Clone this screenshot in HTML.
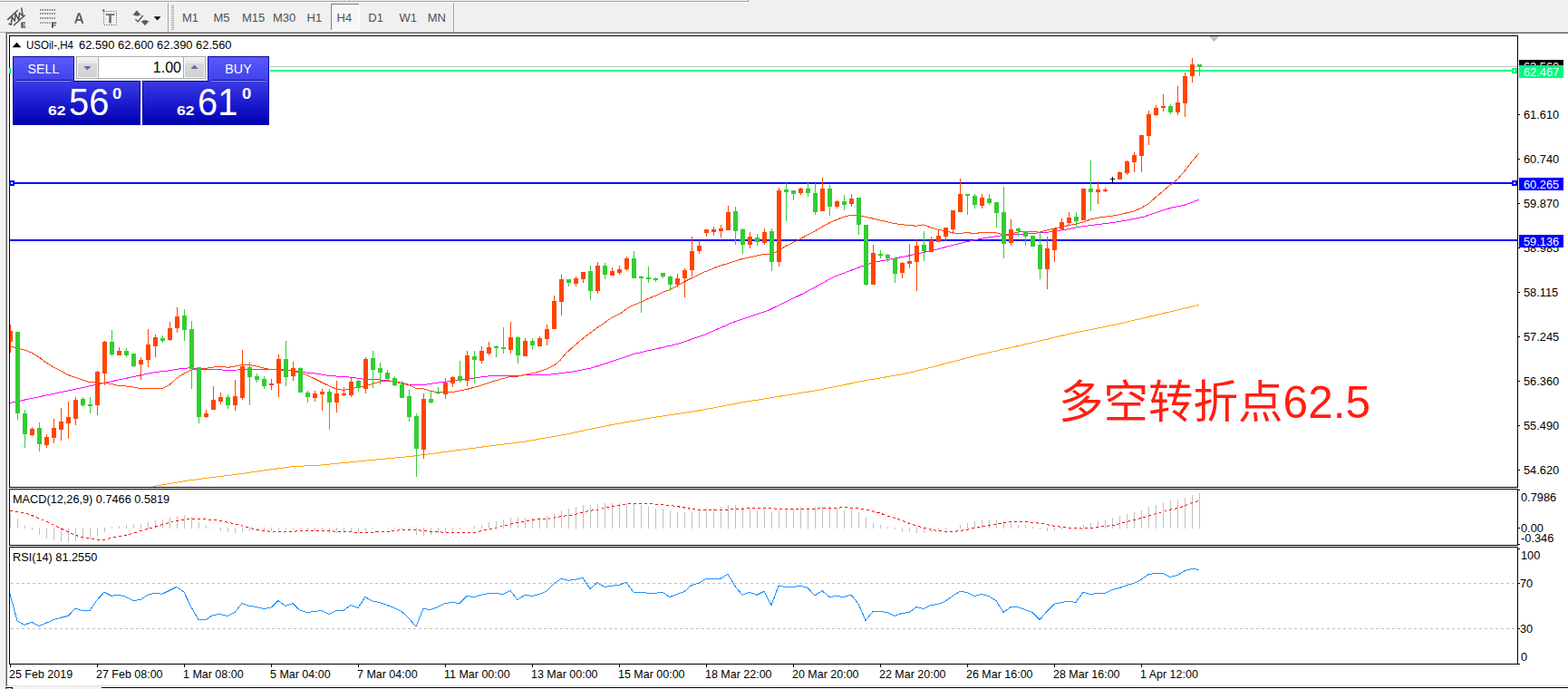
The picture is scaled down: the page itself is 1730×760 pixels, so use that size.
<!DOCTYPE html>
<html>
<head>
<meta charset="utf-8">
<title>USOil H4</title>
<style>
html,body{margin:0;padding:0;}
body{width:1730px;height:760px;overflow:hidden;background:#fff;position:relative;font-family:"Liberation Sans",sans-serif;font-size:12px;color:#000;}
.abs{position:absolute;}
.t{position:absolute;white-space:nowrap;line-height:14px;font-size:13px;transform-origin:0 0;transform:scaleX(0.978);}
#toolbar{left:0;top:0;width:1730px;height:35px;background:#f0f0f0;}
.tb{position:absolute;top:13px;font-size:13px;color:#505050;line-height:14px;white-space:nowrap;}
.ax{position:absolute;left:1681px;font-size:13px;line-height:14px;white-space:nowrap;transform-origin:0 0;transform:scaleX(0.985);}
.tick{position:absolute;left:1675px;width:2px;height:1px;background:#000;}
.dt{position:absolute;top:737px;font-size:13px;line-height:14px;white-space:nowrap;transform-origin:0 0;transform:scaleX(0.96);}
.dtick{position:absolute;top:733px;width:1px;height:3px;background:#000;}
.box{position:absolute;border:1px solid #000;box-sizing:border-box;}
.lbl{position:absolute;left:1676px;width:49px;height:14px;color:#fff;font-size:13px;line-height:14px;white-space:nowrap;}
.lbl span{position:absolute;left:5px;top:1px;transform-origin:0 0;transform:scaleX(0.985);}
</style>
</head>
<body>
<!-- toolbar -->
<div id="toolbar" class="abs"></div>
<div class="abs" style="left:0;top:1px;width:825px;height:1px;background:#a0a0a0;"></div>
<div class="abs" style="left:0;top:2px;width:826px;height:1px;background:#fff;"></div>
<div class="abs" style="left:825px;top:0;width:1px;height:2px;background:#a0a0a0;"></div>
<div class="abs" style="left:385px;top:0;width:1px;height:2px;background:#a0a0a0;"></div><div class="abs" style="left:386px;top:0;width:1px;height:1px;background:#fff;"></div>
<div class="abs" style="left:0;top:34px;width:1730px;height:1px;background:#f9f9f9;"></div>
<div class="abs" style="left:0;top:35px;width:1730px;height:1px;background:#a0a0a0;"></div>
<div class="abs" style="left:0;top:36px;width:1730px;height:1px;background:#696969;"></div>
<!-- left strip -->
<div class="abs" style="left:0;top:36px;width:7px;height:721px;background:#f0f0f0;"></div>
<div class="abs" style="left:0;top:36px;width:6px;height:1px;background:#fff;"></div>
<div class="abs" style="left:1px;top:37px;width:1px;height:720px;background:#f8f8f8;"></div>
<div class="abs" style="left:5px;top:37px;width:1px;height:720px;background:#fafafa;"></div>
<div class="abs" style="left:6px;top:36px;width:1px;height:721px;background:#a0a0a0;"></div>
<div class="abs" style="left:7px;top:36px;width:1px;height:721px;background:#696969;"></div>
<!-- bottom strip -->
<div class="abs" style="left:8px;top:756px;width:1722px;height:1px;background:#e3e3e3;"></div>
<div class="abs" style="left:0;top:757px;width:1730px;height:3px;background:#f4f4f4;"></div>
<div class="abs" style="left:112px;top:758px;width:1618px;height:1px;background:#000;"></div>
<div class="abs" style="left:112px;top:759px;width:1618px;height:1px;background:#fff;"></div>
<div class="abs" style="left:6px;top:758px;width:8px;height:1px;background:#000;"></div>
<div class="abs" style="left:13px;top:759px;width:1px;height:1px;background:#000;"></div>
<div class="abs" style="left:6px;top:759px;width:2px;height:1px;background:#808080;"></div>

<!-- toolbar icons -->
<svg class="abs" style="left:0;top:0;" width="520" height="36" viewBox="0 0 520 36">
  <g fill="none" stroke="#505050" stroke-linecap="round" stroke-linejoin="round">
  <path d="M8.7 21.4 L19.4 11.5" stroke-width="1.5"/>
  <path d="M15.4 27.7 L27.3 17" stroke-width="1.5"/>
  <path d="M10 26.3 L12.3 27.3 L13.2 18.6 L16.3 23.2 L17.1 15 L20.8 22.2 L21.5 14.3 L25.3 17.8 L23.7 9.1" stroke-width="1.5"/>
</g>
<path d="M23.3 24.5 H28 V25.9 H25 V26.9 H27.6 V28.2 H25 V29.3 H28.2 V30.7 H23.3 Z" fill="#505050"/>
<!-- fibo icon -->
<g stroke="#505050" stroke-width="1.3" stroke-dasharray="1.3 1.25">
  <path d="M44.2 11 H61.5"/><path d="M44.2 15 H61.5"/><path d="M44.2 20 H61.5"/><path d="M44.2 25.1 H56.5"/>
</g>
<path d="M57 24.5 H62.2 V25.9 H58.8 V27.2 H61.6 V28.5 H58.8 V30.7 H57 Z" fill="#505050"/>
<!-- A -->
<path d="M86 14.2 H88.4 L92.3 25.7 H90.2 L89.3 22.9 H85 L84.1 25.7 H82.1 Z M85.6 21.2 H88.7 L87.2 16.3 Z" fill="#5a5a5a"/>
<!-- text label -->
<rect x="114.5" y="12.5" width="14" height="15" fill="none" stroke="#505050" stroke-width="1" stroke-dasharray="1 1.6"/>
<path d="M113 10.5 H115.3 V12.6 H113 Z" fill="#6a6a6a"/>
<path d="M116.8 15.2 H126.3 V17 H122.8 V25.6 H120.3 V17 H116.8 Z" fill="#6a6a6a"/>
<!-- arrows -->
<path d="M150.9 11.4 L155.6 16.8 H153 V17.6 H149 V16.8 H146.4 Z" fill="#5a5a5a"/>
<path d="M159.9 28.2 L164.6 23 H162 V22.2 H157.9 V23 H155.4 Z" fill="#5a5a5a"/>
<path d="M149.3 21.2 L152.3 23.8 L157.8 17" fill="none" stroke="#5a5a5a" stroke-width="1.4"/>
<path d="M169.8 18.2 H177.4 L173.6 22.4 Z" fill="#000"/>
<!-- separator + grip -->
<rect x="185" y="3" width="1" height="32" fill="#a0a0a0"/><rect x="186" y="3" width="1" height="32" fill="#fbfbfb"/>
<g fill="#a8a8a8">
<rect x="189" y="6" width="3" height="1"/><rect x="189" y="8" width="3" height="1"/><rect x="189" y="10" width="3" height="1"/><rect x="189" y="12" width="3" height="1"/><rect x="189" y="14" width="3" height="1"/><rect x="189" y="16" width="3" height="1"/><rect x="189" y="18" width="3" height="1"/><rect x="189" y="20" width="3" height="1"/><rect x="189" y="22" width="3" height="1"/><rect x="189" y="24" width="3" height="1"/><rect x="189" y="26" width="3" height="1"/><rect x="189" y="28" width="3" height="1"/><rect x="189" y="30" width="3" height="1"/><rect x="189" y="32" width="3" height="1"/>
</g>
<!-- H4 selected -->
<rect x="365" y="4" width="32" height="29" fill="#f7f7f7"/>
<rect x="365" y="4" width="31" height="1" fill="#808080"/><rect x="365" y="4" width="1" height="29" fill="#808080"/>
<rect x="396" y="4" width="1" height="29" fill="#fff"/><rect x="366" y="32" width="31" height="1" fill="#fff"/>
<!-- right separator -->
<rect x="500" y="3" width="1" height="32" fill="#a0a0a0"/><rect x="501" y="3" width="1" height="32" fill="#fbfbfb"/>

</svg>
<div class="tb" style="left:201px;">M1</div>
<div class="tb" style="left:235.5px;">M5</div>
<div class="tb" style="left:267px;">M15</div>
<div class="tb" style="left:301px;">M30</div>
<div class="tb" style="left:338.5px;">H1</div>
<div class="tb" style="left:371.5px;">H4</div>
<div class="tb" style="left:406.3px;">D1</div>
<div class="tb" style="left:440.6px;">W1</div>
<div class="tb" style="left:471.7px;">MN</div>

<!-- chart boxes -->
<div class="box" style="left:10px;top:39px;width:1665px;height:499px;"></div>
<div class="box" style="left:10px;top:539px;width:1665px;height:63px;"></div>
<div class="box" style="left:10px;top:603px;width:1665px;height:130px;"></div>

<!-- chart contents -->
<svg class="abs" style="left:0;top:0;" width="1730" height="760" viewBox="0 0 1730 760" shape-rendering="crispEdges">
<rect x="298" y="73" width="1376" height="1" fill="#c0c0c0"/>
<rect x="10" y="75" width="2" height="6" fill="#00fa7d"/>
<rect x="298" y="77" width="1372" height="2" fill="#00fa7d"/>
<rect x="1668" y="75" width="6" height="6" fill="#00fa7d"/><rect x="1670" y="77" width="2" height="2" fill="#fff"/>
<rect x="11" y="201" width="1663" height="2" fill="#0000ff"/>
<rect x="1668" y="199" width="6" height="6" fill="#0000ff"/><rect x="1670" y="201" width="2" height="2" fill="#fff"/>
<rect x="10" y="199" width="6" height="6" fill="#0000ff"/><rect x="12" y="201" width="2" height="2" fill="#fff"/>
<rect x="11" y="264" width="1663" height="2" fill="#0000ff"/>
<line x1="12" y1="643.5" x2="1674" y2="643.5" stroke="#c0c0c0" stroke-dasharray="3 3"/>
<line x1="12" y1="693.5" x2="1674" y2="693.5" stroke="#c0c0c0" stroke-dasharray="3 3"/>
<path d="M1334 40 L1345 40 L1339.5 46 Z" fill="#c0c0c0" shape-rendering="auto"/>
<g shape-rendering="auto">
<polyline points="169.0,536.5 207.8,530.0 265.6,522.6 323.4,514.5 350.0,513.4 374.5,511.0 414.0,507.1 453.4,503.4 480.0,500.0 528.6,493.5 577.0,487.4 625.7,478.9 650.0,473.6 674.0,468.7 722.8,460.2 771.3,452.9 819.9,443.7 868.4,435.9 900.0,430.8 950.9,420.5 1001.7,411.6 1027.2,405.2 1078.0,392.0 1128.9,380.3 1179.8,368.3 1230.6,358.1 1281.5,346.2 1323.0,336.3" fill="none" stroke="#ffa500" stroke-width="1" shape-rendering="crispEdges" />
<polyline points="11.0,444.5 91.0,427.6 170.0,410.7 183.0,409.3 196.0,407.1 209.5,405.8 222.6,407.1 235.8,407.4 249.0,408.3 262.0,408.0 275.0,407.4 288.4,407.1 301.6,407.1 314.7,408.0 327.9,409.7 335.0,410.7 348.2,412.0 361.3,414.2 374.5,415.3 387.6,416.2 400.8,418.2 413.9,418.6 427.1,419.5 440.3,421.8 453.4,424.7 466.6,424.7 479.7,422.5 492.9,421.0 500.0,420.3 519.7,417.4 543.4,414.3 572.4,414.1 605.3,413.4 631.6,410.1 651.3,406.2 670.0,400.5 699.6,390.4 748.9,379.1 778.5,368.7 808.1,355.8 847.6,342.4 887.1,323.3 920.0,305.4 952.9,293.0 966.0,289.0 999.0,282.8 1031.8,275.5 1064.7,267.0 1085.0,262.8 1107.0,259.5 1123.0,258.4 1147.0,256.8 1163.0,255.5 1179.0,252.6 1195.0,249.6 1211.0,247.6 1227.0,245.7 1243.0,243.0 1261.8,239.3 1275.0,234.7 1291.0,229.5 1307.0,226.2 1323.0,220.3" fill="none" stroke="#ff00ff" stroke-width="1" shape-rendering="crispEdges" />
<polyline points="11.0,382.0 19.0,384.0 27.0,386.0 35.0,389.0 43.0,394.0 51.0,400.0 59.0,405.0 67.0,409.0 75.0,413.5 91.0,419.0 99.0,421.5 107.0,422.0 115.0,422.0 123.0,423.5 131.0,425.5 139.0,426.0 147.0,427.0 155.0,428.5 163.0,428.7 170.0,428.7 179.0,428.7 187.0,424.5 195.0,417.2 203.0,412.0 211.0,408.0 219.0,407.1 227.0,406.4 235.0,405.1 243.0,404.1 251.0,405.4 259.0,404.1 267.0,402.4 275.0,402.4 283.0,404.1 291.0,406.0 299.0,407.6 307.0,408.0 315.0,408.0 323.0,409.3 331.0,411.3 335.0,412.2 348.0,418.2 361.0,424.7 371.0,429.1 379.0,430.3 387.0,429.3 395.0,426.7 403.0,425.8 411.0,423.4 419.0,421.0 427.0,420.1 435.0,421.0 443.0,422.8 451.0,424.7 459.0,428.4 467.0,428.7 475.0,431.3 483.0,432.6 491.0,432.6 499.0,432.6 513.0,429.9 526.0,426.6 546.0,420.0 563.0,415.4 572.0,415.1 579.0,413.4 592.0,410.8 605.0,406.2 612.0,402.5 618.4,397.0 625.0,389.1 631.6,383.2 644.7,372.0 657.9,362.1 662.4,359.3 675.5,350.1 684.7,345.5 692.6,339.6 699.2,336.3 707.0,333.4 715.0,329.3 723.0,326.4 731.0,322.5 739.0,319.6 747.0,315.3 755.0,310.7 775.0,301.0 791.2,294.3 818.2,285.8 841.8,280.5 851.0,280.3 859.0,276.6 867.0,271.3 875.0,267.4 883.0,263.4 891.0,259.1 899.0,254.9 907.0,250.3 915.0,245.7 923.0,242.4 929.0,240.0 939.0,237.1 947.0,237.4 955.0,239.3 972.6,243.3 987.0,246.6 1003.0,248.6 1011.0,249.2 1019.0,247.9 1027.0,250.9 1035.0,253.2 1043.0,254.9 1051.0,256.8 1059.0,257.5 1067.0,256.4 1075.0,257.8 1083.0,256.4 1091.0,256.4 1099.0,256.8 1107.0,258.8 1115.0,258.2 1123.0,255.9 1131.0,255.3 1139.0,255.3 1147.0,256.2 1155.0,253.9 1163.0,252.2 1171.0,250.3 1179.0,248.7 1187.0,247.0 1195.0,245.0 1203.0,242.1 1211.0,240.4 1219.0,239.1 1227.0,238.2 1235.0,236.8 1243.0,234.9 1251.0,233.0 1259.0,229.5 1267.0,224.9 1275.0,217.6 1283.0,211.0 1291.0,204.1 1299.0,197.9 1307.0,188.7 1315.0,178.2 1323.0,168.9" fill="none" stroke="#ff4500" stroke-width="1" shape-rendering="crispEdges" />
<rect x="11" y="358" width="1" height="31" fill="#ff4500"/>
<rect x="11" y="365" width="3" height="12" fill="#ff4500"/>
<rect x="19" y="366" width="1" height="97" fill="#32cd32"/>
<rect x="17" y="366" width="5" height="90" fill="#32cd32"/>
<rect x="27" y="452" width="1" height="42" fill="#32cd32"/>
<rect x="25" y="456" width="5" height="23" fill="#32cd32"/>
<rect x="35" y="471" width="1" height="10" fill="#ff4500"/>
<rect x="33" y="473" width="5" height="7" fill="#ff4500"/>
<rect x="43" y="466" width="1" height="32" fill="#32cd32"/>
<rect x="41" y="472" width="5" height="18" fill="#32cd32"/>
<rect x="51" y="479" width="1" height="15" fill="#ff4500"/>
<rect x="49" y="482" width="5" height="9" fill="#ff4500"/>
<rect x="59" y="462" width="1" height="27" fill="#ff4500"/>
<rect x="57" y="472" width="5" height="11" fill="#ff4500"/>
<rect x="67" y="450" width="1" height="36" fill="#ff4500"/>
<rect x="65" y="465" width="5" height="9" fill="#ff4500"/>
<rect x="75" y="443" width="1" height="41" fill="#ff4500"/>
<rect x="73" y="460" width="5" height="7" fill="#ff4500"/>
<rect x="83" y="438" width="1" height="31" fill="#ff4500"/>
<rect x="81" y="441" width="5" height="21" fill="#ff4500"/>
<rect x="91" y="438" width="1" height="11" fill="#32cd32"/>
<rect x="89" y="440" width="5" height="7" fill="#32cd32"/>
<rect x="99" y="438" width="1" height="18" fill="#32cd32"/>
<rect x="97" y="446" width="5" height="2" fill="#32cd32"/>
<rect x="107" y="409" width="1" height="49" fill="#ff4500"/>
<rect x="105" y="410" width="5" height="37" fill="#ff4500"/>
<rect x="115" y="376" width="1" height="49" fill="#ff4500"/>
<rect x="113" y="377" width="5" height="35" fill="#ff4500"/>
<rect x="123" y="364" width="1" height="29" fill="#32cd32"/>
<rect x="121" y="377" width="5" height="14" fill="#32cd32"/>
<rect x="131" y="383" width="1" height="9" fill="#ff4500"/>
<rect x="129" y="387" width="5" height="5" fill="#ff4500"/>
<rect x="139" y="384" width="1" height="10" fill="#32cd32"/>
<rect x="137" y="387" width="5" height="5" fill="#32cd32"/>
<rect x="147" y="390" width="1" height="15" fill="#32cd32"/>
<rect x="145" y="390" width="5" height="14" fill="#32cd32"/>
<rect x="155" y="394" width="1" height="25" fill="#ff4500"/>
<rect x="153" y="397" width="5" height="5" fill="#ff4500"/>
<rect x="163" y="363" width="1" height="42" fill="#ff4500"/>
<rect x="161" y="380" width="5" height="17" fill="#ff4500"/>
<rect x="171" y="369" width="1" height="25" fill="#ff4500"/>
<rect x="169" y="372" width="5" height="10" fill="#ff4500"/>
<rect x="179" y="370" width="1" height="8" fill="#32cd32"/>
<rect x="177" y="373" width="5" height="3" fill="#32cd32"/>
<rect x="187" y="355" width="1" height="21" fill="#ff4500"/>
<rect x="185" y="362" width="5" height="13" fill="#ff4500"/>
<rect x="195" y="339" width="1" height="28" fill="#ff4500"/>
<rect x="193" y="349" width="5" height="13" fill="#ff4500"/>
<rect x="203" y="341" width="1" height="35" fill="#32cd32"/>
<rect x="201" y="348" width="5" height="16" fill="#32cd32"/>
<rect x="211" y="354" width="1" height="75" fill="#32cd32"/>
<rect x="209" y="363" width="5" height="44" fill="#32cd32"/>
<rect x="219" y="405" width="1" height="62" fill="#32cd32"/>
<rect x="217" y="405" width="5" height="55" fill="#32cd32"/>
<rect x="227" y="452" width="1" height="9" fill="#ff4500"/>
<rect x="225" y="456" width="5" height="4" fill="#ff4500"/>
<rect x="235" y="426" width="1" height="26" fill="#ff4500"/>
<rect x="233" y="441" width="5" height="11" fill="#ff4500"/>
<rect x="243" y="433" width="1" height="13" fill="#ff4500"/>
<rect x="241" y="438" width="5" height="5" fill="#ff4500"/>
<rect x="251" y="435" width="1" height="16" fill="#32cd32"/>
<rect x="249" y="438" width="5" height="9" fill="#32cd32"/>
<rect x="259" y="419" width="1" height="34" fill="#ff4500"/>
<rect x="257" y="437" width="5" height="10" fill="#ff4500"/>
<rect x="267" y="386" width="1" height="55" fill="#ff4500"/>
<rect x="265" y="404" width="5" height="35" fill="#ff4500"/>
<rect x="275" y="399" width="1" height="48" fill="#32cd32"/>
<rect x="273" y="405" width="5" height="11" fill="#32cd32"/>
<rect x="283" y="412" width="1" height="10" fill="#32cd32"/>
<rect x="281" y="415" width="5" height="4" fill="#32cd32"/>
<rect x="291" y="415" width="1" height="14" fill="#32cd32"/>
<rect x="289" y="418" width="5" height="8" fill="#32cd32"/>
<rect x="299" y="418" width="1" height="12" fill="#ff4500"/>
<rect x="297" y="423" width="5" height="2" fill="#ff4500"/>
<rect x="307" y="391" width="1" height="47" fill="#ff4500"/>
<rect x="305" y="396" width="5" height="27" fill="#ff4500"/>
<rect x="315" y="376" width="1" height="50" fill="#32cd32"/>
<rect x="313" y="396" width="5" height="20" fill="#32cd32"/>
<rect x="323" y="399" width="1" height="21" fill="#ff4500"/>
<rect x="321" y="406" width="5" height="9" fill="#ff4500"/>
<rect x="331" y="405" width="1" height="28" fill="#32cd32"/>
<rect x="329" y="406" width="5" height="27" fill="#32cd32"/>
<rect x="339" y="431" width="1" height="13" fill="#32cd32"/>
<rect x="337" y="433" width="5" height="5" fill="#32cd32"/>
<rect x="347" y="431" width="1" height="12" fill="#ff4500"/>
<rect x="345" y="434" width="5" height="5" fill="#ff4500"/>
<rect x="355" y="429" width="1" height="24" fill="#ff4500"/>
<rect x="353" y="432" width="5" height="3" fill="#ff4500"/>
<rect x="363" y="429" width="1" height="45" fill="#32cd32"/>
<rect x="361" y="432" width="5" height="12" fill="#32cd32"/>
<rect x="371" y="420" width="1" height="35" fill="#ff4500"/>
<rect x="369" y="434" width="5" height="10" fill="#ff4500"/>
<rect x="379" y="427" width="1" height="10" fill="#ff4500"/>
<rect x="377" y="434" width="5" height="2" fill="#ff4500"/>
<rect x="387" y="416" width="1" height="22" fill="#ff4500"/>
<rect x="385" y="421" width="5" height="15" fill="#ff4500"/>
<rect x="395" y="419" width="1" height="13" fill="#32cd32"/>
<rect x="393" y="420" width="5" height="8" fill="#32cd32"/>
<rect x="403" y="394" width="1" height="40" fill="#ff4500"/>
<rect x="401" y="396" width="5" height="33" fill="#ff4500"/>
<rect x="411" y="387" width="1" height="41" fill="#32cd32"/>
<rect x="409" y="395" width="5" height="13" fill="#32cd32"/>
<rect x="419" y="400" width="1" height="24" fill="#32cd32"/>
<rect x="417" y="406" width="5" height="5" fill="#32cd32"/>
<rect x="427" y="408" width="1" height="13" fill="#32cd32"/>
<rect x="425" y="411" width="5" height="7" fill="#32cd32"/>
<rect x="435" y="415" width="1" height="11" fill="#32cd32"/>
<rect x="433" y="417" width="5" height="8" fill="#32cd32"/>
<rect x="443" y="420" width="1" height="19" fill="#32cd32"/>
<rect x="441" y="424" width="5" height="15" fill="#32cd32"/>
<rect x="451" y="430" width="1" height="35" fill="#32cd32"/>
<rect x="449" y="437" width="5" height="23" fill="#32cd32"/>
<rect x="459" y="456" width="1" height="70" fill="#32cd32"/>
<rect x="457" y="459" width="5" height="36" fill="#32cd32"/>
<rect x="467" y="434" width="1" height="72" fill="#ff4500"/>
<rect x="465" y="440" width="5" height="56" fill="#ff4500"/>
<rect x="475" y="432" width="1" height="13" fill="#32cd32"/>
<rect x="473" y="440" width="5" height="4" fill="#32cd32"/>
<rect x="483" y="427" width="1" height="8" fill="#32cd32"/>
<rect x="481" y="432" width="5" height="2" fill="#32cd32"/>
<rect x="491" y="417" width="1" height="23" fill="#ff4500"/>
<rect x="489" y="422" width="5" height="13" fill="#ff4500"/>
<rect x="499" y="415" width="1" height="12" fill="#ff4500"/>
<rect x="497" y="416" width="5" height="7" fill="#ff4500"/>
<rect x="507" y="398" width="1" height="24" fill="#32cd32"/>
<rect x="505" y="415" width="5" height="5" fill="#32cd32"/>
<rect x="515" y="387" width="1" height="39" fill="#ff4500"/>
<rect x="513" y="392" width="5" height="28" fill="#ff4500"/>
<rect x="523" y="387" width="1" height="36" fill="#32cd32"/>
<rect x="521" y="393" width="5" height="4" fill="#32cd32"/>
<rect x="531" y="382" width="1" height="19" fill="#ff4500"/>
<rect x="529" y="387" width="5" height="11" fill="#ff4500"/>
<rect x="539" y="377" width="1" height="15" fill="#ff4500"/>
<rect x="537" y="383" width="5" height="7" fill="#ff4500"/>
<rect x="547" y="381" width="1" height="13" fill="#32cd32"/>
<rect x="545" y="382" width="5" height="2" fill="#32cd32"/>
<rect x="555" y="361" width="1" height="29" fill="#32cd32"/>
<rect x="553" y="383" width="5" height="2" fill="#32cd32"/>
<rect x="563" y="355" width="1" height="35" fill="#ff4500"/>
<rect x="561" y="372" width="5" height="14" fill="#ff4500"/>
<rect x="571" y="371" width="1" height="30" fill="#32cd32"/>
<rect x="569" y="372" width="5" height="20" fill="#32cd32"/>
<rect x="579" y="373" width="1" height="20" fill="#ff4500"/>
<rect x="577" y="376" width="5" height="17" fill="#ff4500"/>
<rect x="587" y="373" width="1" height="13" fill="#32cd32"/>
<rect x="585" y="376" width="5" height="5" fill="#32cd32"/>
<rect x="595" y="371" width="1" height="11" fill="#ff4500"/>
<rect x="593" y="373" width="5" height="9" fill="#ff4500"/>
<rect x="603" y="358" width="1" height="23" fill="#ff4500"/>
<rect x="601" y="363" width="5" height="11" fill="#ff4500"/>
<rect x="611" y="326" width="1" height="37" fill="#ff4500"/>
<rect x="609" y="332" width="5" height="31" fill="#ff4500"/>
<rect x="619" y="303" width="1" height="45" fill="#ff4500"/>
<rect x="617" y="308" width="5" height="25" fill="#ff4500"/>
<rect x="627" y="308" width="1" height="8" fill="#32cd32"/>
<rect x="625" y="308" width="5" height="4" fill="#32cd32"/>
<rect x="635" y="305" width="1" height="11" fill="#ff4500"/>
<rect x="633" y="307" width="5" height="6" fill="#ff4500"/>
<rect x="643" y="300" width="1" height="12" fill="#ff4500"/>
<rect x="641" y="300" width="5" height="8" fill="#ff4500"/>
<rect x="651" y="293" width="1" height="38" fill="#32cd32"/>
<rect x="649" y="299" width="5" height="22" fill="#32cd32"/>
<rect x="659" y="289" width="1" height="35" fill="#ff4500"/>
<rect x="657" y="293" width="5" height="28" fill="#ff4500"/>
<rect x="667" y="290" width="1" height="18" fill="#32cd32"/>
<rect x="665" y="293" width="5" height="10" fill="#32cd32"/>
<rect x="675" y="295" width="1" height="9" fill="#ff4500"/>
<rect x="673" y="299" width="5" height="5" fill="#ff4500"/>
<rect x="683" y="293" width="1" height="10" fill="#ff4500"/>
<rect x="681" y="297" width="5" height="4" fill="#ff4500"/>
<rect x="691" y="283" width="1" height="16" fill="#ff4500"/>
<rect x="689" y="285" width="5" height="12" fill="#ff4500"/>
<rect x="699" y="277" width="1" height="30" fill="#32cd32"/>
<rect x="697" y="285" width="5" height="22" fill="#32cd32"/>
<rect x="707" y="304" width="1" height="41" fill="#32cd32"/>
<rect x="705" y="305" width="5" height="2" fill="#32cd32"/>
<rect x="715" y="294" width="1" height="18" fill="#32cd32"/>
<rect x="713" y="306" width="5" height="2" fill="#32cd32"/>
<rect x="723" y="306" width="1" height="5" fill="#32cd32"/>
<rect x="721" y="307" width="5" height="2" fill="#32cd32"/>
<rect x="731" y="301" width="1" height="6" fill="#32cd32"/>
<rect x="729" y="301" width="5" height="4" fill="#32cd32"/>
<rect x="739" y="304" width="1" height="17" fill="#32cd32"/>
<rect x="737" y="305" width="5" height="9" fill="#32cd32"/>
<rect x="747" y="302" width="1" height="15" fill="#ff4500"/>
<rect x="745" y="307" width="5" height="7" fill="#ff4500"/>
<rect x="755" y="296" width="1" height="32" fill="#ff4500"/>
<rect x="753" y="298" width="5" height="9" fill="#ff4500"/>
<rect x="763" y="261" width="1" height="44" fill="#ff4500"/>
<rect x="761" y="277" width="5" height="21" fill="#ff4500"/>
<rect x="771" y="265" width="1" height="15" fill="#ff4500"/>
<rect x="769" y="271" width="5" height="6" fill="#ff4500"/>
<rect x="779" y="253" width="1" height="8" fill="#ff4500"/>
<rect x="777" y="253" width="5" height="4" fill="#ff4500"/>
<rect x="787" y="250" width="1" height="10" fill="#ff4500"/>
<rect x="785" y="253" width="5" height="3" fill="#ff4500"/>
<rect x="795" y="248" width="1" height="14" fill="#ff4500"/>
<rect x="793" y="252" width="5" height="3" fill="#ff4500"/>
<rect x="803" y="227" width="1" height="27" fill="#ff4500"/>
<rect x="801" y="234" width="5" height="20" fill="#ff4500"/>
<rect x="811" y="228" width="1" height="42" fill="#32cd32"/>
<rect x="809" y="233" width="5" height="22" fill="#32cd32"/>
<rect x="819" y="252" width="1" height="28" fill="#32cd32"/>
<rect x="817" y="253" width="5" height="17" fill="#32cd32"/>
<rect x="827" y="256" width="1" height="18" fill="#ff4500"/>
<rect x="825" y="261" width="5" height="9" fill="#ff4500"/>
<rect x="835" y="258" width="1" height="13" fill="#32cd32"/>
<rect x="833" y="262" width="5" height="5" fill="#32cd32"/>
<rect x="843" y="252" width="1" height="18" fill="#ff4500"/>
<rect x="841" y="256" width="5" height="12" fill="#ff4500"/>
<rect x="851" y="252" width="1" height="47" fill="#32cd32"/>
<rect x="849" y="255" width="5" height="34" fill="#32cd32"/>
<rect x="859" y="207" width="1" height="87" fill="#ff4500"/>
<rect x="857" y="210" width="5" height="79" fill="#ff4500"/>
<rect x="867" y="202" width="1" height="42" fill="#32cd32"/>
<rect x="865" y="209" width="5" height="3" fill="#32cd32"/>
<rect x="875" y="210" width="1" height="11" fill="#32cd32"/>
<rect x="873" y="210" width="5" height="4" fill="#32cd32"/>
<rect x="883" y="207" width="1" height="8" fill="#ff4500"/>
<rect x="881" y="208" width="5" height="5" fill="#ff4500"/>
<rect x="891" y="200" width="1" height="17" fill="#32cd32"/>
<rect x="889" y="208" width="5" height="5" fill="#32cd32"/>
<rect x="899" y="202" width="1" height="35" fill="#32cd32"/>
<rect x="897" y="213" width="5" height="21" fill="#32cd32"/>
<rect x="907" y="196" width="1" height="37" fill="#ff4500"/>
<rect x="905" y="208" width="5" height="25" fill="#ff4500"/>
<rect x="915" y="204" width="1" height="34" fill="#32cd32"/>
<rect x="913" y="208" width="5" height="20" fill="#32cd32"/>
<rect x="923" y="221" width="1" height="9" fill="#ff4500"/>
<rect x="921" y="222" width="5" height="6" fill="#ff4500"/>
<rect x="931" y="215" width="1" height="17" fill="#32cd32"/>
<rect x="929" y="222" width="5" height="4" fill="#32cd32"/>
<rect x="939" y="214" width="1" height="14" fill="#ff4500"/>
<rect x="937" y="219" width="5" height="6" fill="#ff4500"/>
<rect x="947" y="218" width="1" height="41" fill="#32cd32"/>
<rect x="945" y="218" width="5" height="30" fill="#32cd32"/>
<rect x="955" y="248" width="1" height="67" fill="#32cd32"/>
<rect x="953" y="248" width="5" height="66" fill="#32cd32"/>
<rect x="963" y="270" width="1" height="44" fill="#ff4500"/>
<rect x="961" y="279" width="5" height="35" fill="#ff4500"/>
<rect x="971" y="276" width="1" height="9" fill="#32cd32"/>
<rect x="969" y="280" width="5" height="2" fill="#32cd32"/>
<rect x="979" y="280" width="1" height="9" fill="#32cd32"/>
<rect x="977" y="281" width="5" height="4" fill="#32cd32"/>
<rect x="987" y="284" width="1" height="28" fill="#32cd32"/>
<rect x="985" y="285" width="5" height="17" fill="#32cd32"/>
<rect x="995" y="289" width="1" height="18" fill="#ff4500"/>
<rect x="993" y="290" width="5" height="11" fill="#ff4500"/>
<rect x="1003" y="269" width="1" height="27" fill="#ff4500"/>
<rect x="1001" y="288" width="5" height="3" fill="#ff4500"/>
<rect x="1011" y="264" width="1" height="57" fill="#ff4500"/>
<rect x="1009" y="271" width="5" height="18" fill="#ff4500"/>
<rect x="1019" y="255" width="1" height="33" fill="#32cd32"/>
<rect x="1017" y="270" width="5" height="7" fill="#32cd32"/>
<rect x="1027" y="261" width="1" height="17" fill="#ff4500"/>
<rect x="1025" y="265" width="5" height="13" fill="#ff4500"/>
<rect x="1035" y="253" width="1" height="14" fill="#ff4500"/>
<rect x="1033" y="260" width="5" height="7" fill="#ff4500"/>
<rect x="1043" y="251" width="1" height="15" fill="#ff4500"/>
<rect x="1041" y="251" width="5" height="10" fill="#ff4500"/>
<rect x="1051" y="232" width="1" height="26" fill="#ff4500"/>
<rect x="1049" y="232" width="5" height="21" fill="#ff4500"/>
<rect x="1059" y="197" width="1" height="37" fill="#ff4500"/>
<rect x="1057" y="214" width="5" height="20" fill="#ff4500"/>
<rect x="1067" y="214" width="1" height="23" fill="#32cd32"/>
<rect x="1065" y="214" width="5" height="2" fill="#32cd32"/>
<rect x="1075" y="214" width="1" height="16" fill="#32cd32"/>
<rect x="1073" y="216" width="5" height="10" fill="#32cd32"/>
<rect x="1083" y="214" width="1" height="16" fill="#ff4500"/>
<rect x="1081" y="218" width="5" height="9" fill="#ff4500"/>
<rect x="1091" y="214" width="1" height="12" fill="#32cd32"/>
<rect x="1089" y="219" width="5" height="5" fill="#32cd32"/>
<rect x="1099" y="223" width="1" height="28" fill="#32cd32"/>
<rect x="1097" y="223" width="5" height="12" fill="#32cd32"/>
<rect x="1107" y="206" width="1" height="79" fill="#32cd32"/>
<rect x="1105" y="234" width="5" height="35" fill="#32cd32"/>
<rect x="1115" y="242" width="1" height="29" fill="#ff4500"/>
<rect x="1113" y="253" width="5" height="15" fill="#ff4500"/>
<rect x="1123" y="251" width="1" height="10" fill="#32cd32"/>
<rect x="1121" y="252" width="5" height="3" fill="#32cd32"/>
<rect x="1131" y="255" width="1" height="16" fill="#32cd32"/>
<rect x="1129" y="255" width="5" height="6" fill="#32cd32"/>
<rect x="1139" y="260" width="1" height="12" fill="#32cd32"/>
<rect x="1137" y="260" width="5" height="12" fill="#32cd32"/>
<rect x="1147" y="255" width="1" height="53" fill="#32cd32"/>
<rect x="1145" y="270" width="5" height="27" fill="#32cd32"/>
<rect x="1155" y="261" width="1" height="58" fill="#ff4500"/>
<rect x="1153" y="274" width="5" height="23" fill="#ff4500"/>
<rect x="1163" y="251" width="1" height="38" fill="#ff4500"/>
<rect x="1161" y="252" width="5" height="24" fill="#ff4500"/>
<rect x="1171" y="241" width="1" height="13" fill="#ff4500"/>
<rect x="1169" y="245" width="5" height="8" fill="#ff4500"/>
<rect x="1179" y="234" width="1" height="15" fill="#ff4500"/>
<rect x="1177" y="240" width="5" height="6" fill="#ff4500"/>
<rect x="1187" y="234" width="1" height="17" fill="#32cd32"/>
<rect x="1185" y="239" width="5" height="5" fill="#32cd32"/>
<rect x="1195" y="208" width="1" height="35" fill="#ff4500"/>
<rect x="1193" y="208" width="5" height="35" fill="#ff4500"/>
<rect x="1203" y="177" width="1" height="56" fill="#32cd32"/>
<rect x="1201" y="208" width="5" height="4" fill="#32cd32"/>
<rect x="1211" y="200" width="1" height="25" fill="#ff4500"/>
<rect x="1209" y="209" width="5" height="3" fill="#ff4500"/>
<rect x="1219" y="207" width="1" height="5" fill="#ff4500"/>
<rect x="1217" y="209" width="5" height="2" fill="#ff4500"/>
<rect x="1227" y="195" width="1" height="6" fill="#000"/>
<rect x="1225" y="197" width="5" height="1" fill="#000"/>
<rect x="1235" y="189" width="1" height="9" fill="#ff4500"/>
<rect x="1233" y="190" width="5" height="8" fill="#ff4500"/>
<rect x="1243" y="177" width="1" height="16" fill="#ff4500"/>
<rect x="1241" y="178" width="5" height="13" fill="#ff4500"/>
<rect x="1251" y="168" width="1" height="22" fill="#ff4500"/>
<rect x="1249" y="171" width="5" height="8" fill="#ff4500"/>
<rect x="1259" y="149" width="1" height="41" fill="#ff4500"/>
<rect x="1257" y="149" width="5" height="23" fill="#ff4500"/>
<rect x="1267" y="122" width="1" height="38" fill="#ff4500"/>
<rect x="1265" y="126" width="5" height="24" fill="#ff4500"/>
<rect x="1275" y="116" width="1" height="12" fill="#ff4500"/>
<rect x="1273" y="119" width="5" height="8" fill="#ff4500"/>
<rect x="1283" y="104" width="1" height="19" fill="#ff4500"/>
<rect x="1281" y="117" width="5" height="2" fill="#ff4500"/>
<rect x="1291" y="115" width="1" height="11" fill="#32cd32"/>
<rect x="1289" y="117" width="5" height="7" fill="#32cd32"/>
<rect x="1299" y="95" width="1" height="32" fill="#ff4500"/>
<rect x="1297" y="113" width="5" height="11" fill="#ff4500"/>
<rect x="1307" y="80" width="1" height="49" fill="#ff4500"/>
<rect x="1305" y="84" width="5" height="30" fill="#ff4500"/>
<rect x="1315" y="64" width="1" height="27" fill="#ff4500"/>
<rect x="1313" y="71" width="5" height="13" fill="#ff4500"/>
<rect x="1323" y="71" width="1" height="13" fill="#32cd32"/>
<rect x="1321" y="71" width="5" height="3" fill="#32cd32"/>
<rect x="11" y="566" width="1" height="17" fill="#c0c0c0"/>
<rect x="19" y="572" width="1" height="11" fill="#c0c0c0"/>
<rect x="27" y="580" width="1" height="3" fill="#c0c0c0"/>
<rect x="35" y="582" width="1" height="3" fill="#c0c0c0"/>
<rect x="43" y="582" width="1" height="8" fill="#c0c0c0"/>
<rect x="51" y="582" width="1" height="12" fill="#c0c0c0"/>
<rect x="59" y="582" width="1" height="14" fill="#c0c0c0"/>
<rect x="67" y="582" width="1" height="15" fill="#c0c0c0"/>
<rect x="75" y="582" width="1" height="16" fill="#c0c0c0"/>
<rect x="83" y="582" width="1" height="15" fill="#c0c0c0"/>
<rect x="91" y="582" width="1" height="14" fill="#c0c0c0"/>
<rect x="99" y="582" width="1" height="13" fill="#c0c0c0"/>
<rect x="107" y="582" width="1" height="10" fill="#c0c0c0"/>
<rect x="115" y="582" width="1" height="5" fill="#c0c0c0"/>
<rect x="123" y="581" width="1" height="2" fill="#c0c0c0"/>
<rect x="131" y="580" width="1" height="3" fill="#c0c0c0"/>
<rect x="139" y="579" width="1" height="4" fill="#c0c0c0"/>
<rect x="147" y="578" width="1" height="5" fill="#c0c0c0"/>
<rect x="155" y="578" width="1" height="5" fill="#c0c0c0"/>
<rect x="163" y="576" width="1" height="7" fill="#c0c0c0"/>
<rect x="171" y="574" width="1" height="9" fill="#c0c0c0"/>
<rect x="179" y="573" width="1" height="10" fill="#c0c0c0"/>
<rect x="187" y="571" width="1" height="12" fill="#c0c0c0"/>
<rect x="195" y="569" width="1" height="14" fill="#c0c0c0"/>
<rect x="203" y="568" width="1" height="15" fill="#c0c0c0"/>
<rect x="211" y="570" width="1" height="13" fill="#c0c0c0"/>
<rect x="219" y="576" width="1" height="7" fill="#c0c0c0"/>
<rect x="227" y="580" width="1" height="3" fill="#c0c0c0"/>
<rect x="235" y="582" width="1" height="1" fill="#c0c0c0"/>
<rect x="243" y="582" width="1" height="4" fill="#c0c0c0"/>
<rect x="251" y="582" width="1" height="5" fill="#c0c0c0"/>
<rect x="259" y="582" width="1" height="6" fill="#c0c0c0"/>
<rect x="267" y="582" width="1" height="5" fill="#c0c0c0"/>
<rect x="275" y="582" width="1" height="4" fill="#c0c0c0"/>
<rect x="283" y="582" width="1" height="4" fill="#c0c0c0"/>
<rect x="291" y="582" width="1" height="4" fill="#c0c0c0"/>
<rect x="299" y="582" width="1" height="4" fill="#c0c0c0"/>
<rect x="307" y="582" width="1" height="3" fill="#c0c0c0"/>
<rect x="315" y="582" width="1" height="2" fill="#c0c0c0"/>
<rect x="323" y="582" width="1" height="2" fill="#c0c0c0"/>
<rect x="331" y="582" width="1" height="2" fill="#c0c0c0"/>
<rect x="339" y="582" width="1" height="3" fill="#c0c0c0"/>
<rect x="347" y="582" width="1" height="4" fill="#c0c0c0"/>
<rect x="355" y="582" width="1" height="4" fill="#c0c0c0"/>
<rect x="363" y="582" width="1" height="6" fill="#c0c0c0"/>
<rect x="371" y="582" width="1" height="6" fill="#c0c0c0"/>
<rect x="379" y="582" width="1" height="5" fill="#c0c0c0"/>
<rect x="387" y="582" width="1" height="5" fill="#c0c0c0"/>
<rect x="395" y="582" width="1" height="5" fill="#c0c0c0"/>
<rect x="403" y="582" width="1" height="4" fill="#c0c0c0"/>
<rect x="411" y="582" width="1" height="1" fill="#c0c0c0"/>
<rect x="427" y="582" width="1" height="1" fill="#c0c0c0"/>
<rect x="435" y="582" width="1" height="1" fill="#c0c0c0"/>
<rect x="443" y="582" width="1" height="2" fill="#c0c0c0"/>
<rect x="451" y="582" width="1" height="2" fill="#c0c0c0"/>
<rect x="459" y="582" width="1" height="8" fill="#c0c0c0"/>
<rect x="467" y="582" width="1" height="9" fill="#c0c0c0"/>
<rect x="475" y="582" width="1" height="8" fill="#c0c0c0"/>
<rect x="483" y="582" width="1" height="7" fill="#c0c0c0"/>
<rect x="491" y="582" width="1" height="5" fill="#c0c0c0"/>
<rect x="499" y="582" width="1" height="4" fill="#c0c0c0"/>
<rect x="507" y="582" width="1" height="2" fill="#c0c0c0"/>
<rect x="523" y="580" width="1" height="3" fill="#c0c0c0"/>
<rect x="531" y="579" width="1" height="4" fill="#c0c0c0"/>
<rect x="539" y="576" width="1" height="7" fill="#c0c0c0"/>
<rect x="547" y="575" width="1" height="8" fill="#c0c0c0"/>
<rect x="555" y="573" width="1" height="10" fill="#c0c0c0"/>
<rect x="563" y="571" width="1" height="12" fill="#c0c0c0"/>
<rect x="571" y="571" width="1" height="12" fill="#c0c0c0"/>
<rect x="579" y="571" width="1" height="12" fill="#c0c0c0"/>
<rect x="587" y="571" width="1" height="12" fill="#c0c0c0"/>
<rect x="595" y="571" width="1" height="12" fill="#c0c0c0"/>
<rect x="603" y="569" width="1" height="14" fill="#c0c0c0"/>
<rect x="611" y="567" width="1" height="16" fill="#c0c0c0"/>
<rect x="619" y="563" width="1" height="20" fill="#c0c0c0"/>
<rect x="627" y="561" width="1" height="22" fill="#c0c0c0"/>
<rect x="635" y="559" width="1" height="24" fill="#c0c0c0"/>
<rect x="643" y="557" width="1" height="26" fill="#c0c0c0"/>
<rect x="651" y="557" width="1" height="26" fill="#c0c0c0"/>
<rect x="659" y="556" width="1" height="27" fill="#c0c0c0"/>
<rect x="667" y="555" width="1" height="28" fill="#c0c0c0"/>
<rect x="675" y="555" width="1" height="28" fill="#c0c0c0"/>
<rect x="683" y="555" width="1" height="28" fill="#c0c0c0"/>
<rect x="691" y="555" width="1" height="28" fill="#c0c0c0"/>
<rect x="699" y="556" width="1" height="27" fill="#c0c0c0"/>
<rect x="707" y="557" width="1" height="26" fill="#c0c0c0"/>
<rect x="715" y="559" width="1" height="24" fill="#c0c0c0"/>
<rect x="723" y="561" width="1" height="22" fill="#c0c0c0"/>
<rect x="731" y="561" width="1" height="22" fill="#c0c0c0"/>
<rect x="739" y="563" width="1" height="20" fill="#c0c0c0"/>
<rect x="747" y="565" width="1" height="18" fill="#c0c0c0"/>
<rect x="755" y="565" width="1" height="18" fill="#c0c0c0"/>
<rect x="763" y="565" width="1" height="18" fill="#c0c0c0"/>
<rect x="771" y="563" width="1" height="20" fill="#c0c0c0"/>
<rect x="779" y="561" width="1" height="22" fill="#c0c0c0"/>
<rect x="787" y="561" width="1" height="22" fill="#c0c0c0"/>
<rect x="795" y="559" width="1" height="24" fill="#c0c0c0"/>
<rect x="803" y="557" width="1" height="26" fill="#c0c0c0"/>
<rect x="811" y="557" width="1" height="26" fill="#c0c0c0"/>
<rect x="819" y="559" width="1" height="24" fill="#c0c0c0"/>
<rect x="827" y="561" width="1" height="22" fill="#c0c0c0"/>
<rect x="835" y="563" width="1" height="20" fill="#c0c0c0"/>
<rect x="843" y="563" width="1" height="20" fill="#c0c0c0"/>
<rect x="851" y="565" width="1" height="18" fill="#c0c0c0"/>
<rect x="859" y="563" width="1" height="20" fill="#c0c0c0"/>
<rect x="867" y="561" width="1" height="22" fill="#c0c0c0"/>
<rect x="875" y="561" width="1" height="22" fill="#c0c0c0"/>
<rect x="883" y="559" width="1" height="24" fill="#c0c0c0"/>
<rect x="891" y="559" width="1" height="24" fill="#c0c0c0"/>
<rect x="899" y="559" width="1" height="24" fill="#c0c0c0"/>
<rect x="907" y="559" width="1" height="24" fill="#c0c0c0"/>
<rect x="915" y="559" width="1" height="24" fill="#c0c0c0"/>
<rect x="923" y="561" width="1" height="22" fill="#c0c0c0"/>
<rect x="931" y="563" width="1" height="20" fill="#c0c0c0"/>
<rect x="939" y="563" width="1" height="20" fill="#c0c0c0"/>
<rect x="947" y="565" width="1" height="18" fill="#c0c0c0"/>
<rect x="955" y="571" width="1" height="12" fill="#c0c0c0"/>
<rect x="963" y="577" width="1" height="6" fill="#c0c0c0"/>
<rect x="971" y="579" width="1" height="4" fill="#c0c0c0"/>
<rect x="979" y="581" width="1" height="2" fill="#c0c0c0"/>
<rect x="987" y="582" width="1" height="2" fill="#c0c0c0"/>
<rect x="995" y="582" width="1" height="5" fill="#c0c0c0"/>
<rect x="1003" y="582" width="1" height="5" fill="#c0c0c0"/>
<rect x="1011" y="582" width="1" height="6" fill="#c0c0c0"/>
<rect x="1019" y="582" width="1" height="6" fill="#c0c0c0"/>
<rect x="1027" y="582" width="1" height="5" fill="#c0c0c0"/>
<rect x="1035" y="582" width="1" height="4" fill="#c0c0c0"/>
<rect x="1043" y="582" width="1" height="2" fill="#c0c0c0"/>
<rect x="1059" y="579" width="1" height="4" fill="#c0c0c0"/>
<rect x="1067" y="577" width="1" height="6" fill="#c0c0c0"/>
<rect x="1075" y="575" width="1" height="8" fill="#c0c0c0"/>
<rect x="1083" y="573" width="1" height="10" fill="#c0c0c0"/>
<rect x="1091" y="573" width="1" height="10" fill="#c0c0c0"/>
<rect x="1099" y="573" width="1" height="10" fill="#c0c0c0"/>
<rect x="1107" y="575" width="1" height="8" fill="#c0c0c0"/>
<rect x="1115" y="577" width="1" height="6" fill="#c0c0c0"/>
<rect x="1123" y="579" width="1" height="4" fill="#c0c0c0"/>
<rect x="1131" y="579" width="1" height="4" fill="#c0c0c0"/>
<rect x="1139" y="581" width="1" height="2" fill="#c0c0c0"/>
<rect x="1147" y="582" width="1" height="2" fill="#c0c0c0"/>
<rect x="1155" y="582" width="1" height="4" fill="#c0c0c0"/>
<rect x="1163" y="582" width="1" height="3" fill="#c0c0c0"/>
<rect x="1171" y="582" width="1" height="2" fill="#c0c0c0"/>
<rect x="1179" y="582" width="1" height="1" fill="#c0c0c0"/>
<rect x="1195" y="579" width="1" height="4" fill="#c0c0c0"/>
<rect x="1203" y="577" width="1" height="6" fill="#c0c0c0"/>
<rect x="1211" y="575" width="1" height="8" fill="#c0c0c0"/>
<rect x="1219" y="573" width="1" height="10" fill="#c0c0c0"/>
<rect x="1227" y="571" width="1" height="12" fill="#c0c0c0"/>
<rect x="1235" y="569" width="1" height="14" fill="#c0c0c0"/>
<rect x="1243" y="567" width="1" height="16" fill="#c0c0c0"/>
<rect x="1251" y="565" width="1" height="18" fill="#c0c0c0"/>
<rect x="1259" y="563" width="1" height="20" fill="#c0c0c0"/>
<rect x="1267" y="559" width="1" height="24" fill="#c0c0c0"/>
<rect x="1275" y="557" width="1" height="26" fill="#c0c0c0"/>
<rect x="1283" y="554" width="1" height="29" fill="#c0c0c0"/>
<rect x="1291" y="552" width="1" height="31" fill="#c0c0c0"/>
<rect x="1299" y="551" width="1" height="32" fill="#c0c0c0"/>
<rect x="1307" y="549" width="1" height="34" fill="#c0c0c0"/>
<rect x="1315" y="546" width="1" height="37" fill="#c0c0c0"/>
<rect x="1323" y="544" width="1" height="39" fill="#c0c0c0"/>
<polyline points="11.0,563.3 19.0,564.6 27.0,565.9 35.0,568.3 43.0,571.9 51.0,575.0 59.0,579.0 67.0,582.9 75.0,586.5 83.0,590.3 91.0,592.5 99.0,594.1 107.0,595.2 115.0,595.2 123.0,593.2 131.0,592.1 139.0,590.3 147.0,588.3 155.0,585.6 163.0,583.6 171.0,581.2 179.0,578.6 187.0,576.6 195.0,574.6 203.0,573.2 211.0,572.6 219.0,572.6 227.0,572.8 235.0,573.3 243.0,574.2 251.0,576.3 259.0,577.9 267.0,579.9 275.0,582.3 283.0,584.3 291.0,585.5 299.0,586.3 307.0,586.5 315.0,586.5 323.0,586.3 331.0,585.5 339.0,585.5 347.0,585.5 355.0,585.5 363.0,585.5 371.0,586.3 379.0,586.5 387.0,586.5 395.0,587.5 403.0,587.5 411.0,587.5 419.0,586.3 427.0,586.3 435.0,585.5 443.0,584.5 451.0,584.5 459.0,584.5 467.0,585.5 475.0,586.5 483.0,586.5 491.0,587.5 499.0,587.5 507.0,587.5 515.0,587.5 523.0,587.5 531.0,585.5 539.0,584.3 547.0,582.3 555.0,580.3 563.0,578.3 571.0,576.3 579.0,575.5 587.0,573.9 595.0,572.6 603.0,572.6 611.0,571.2 619.0,569.5 627.0,568.6 635.0,567.3 643.0,565.3 651.0,563.3 659.0,562.2 667.0,560.3 675.0,558.7 683.0,557.3 691.0,556.2 699.0,555.3 707.0,555.3 715.0,555.3 723.0,556.4 731.0,556.6 739.0,557.5 747.0,558.6 755.0,559.9 763.0,561.5 771.0,562.3 779.0,562.3 787.0,562.3 795.0,562.3 803.0,562.3 811.0,561.5 819.0,561.5 827.0,560.6 835.0,560.6 843.0,560.6 851.0,560.6 859.0,561.5 867.0,561.5 875.0,561.5 883.0,561.5 891.0,561.5 899.0,561.5 907.0,560.6 915.0,560.6 923.0,560.6 931.0,559.5 939.0,560.6 947.0,560.6 955.0,562.2 963.0,563.9 971.0,565.9 979.0,569.3 987.0,571.2 995.0,574.2 1003.0,577.2 1011.0,579.9 1019.0,582.3 1027.0,584.3 1035.0,585.5 1043.0,586.5 1051.0,586.5 1059.0,585.5 1067.0,584.3 1075.0,582.3 1083.0,581.2 1091.0,579.9 1099.0,578.3 1107.0,576.6 1115.0,575.5 1123.0,575.5 1131.0,575.5 1139.0,576.3 1147.0,577.2 1155.0,578.6 1163.0,580.3 1171.0,581.2 1179.0,582.3 1187.0,582.5 1195.0,583.2 1203.0,582.5 1211.0,581.5 1219.0,580.6 1227.0,579.5 1235.0,577.9 1243.0,575.5 1251.0,573.6 1259.0,571.6 1267.0,569.5 1275.0,566.6 1283.0,564.6 1291.0,562.3 1299.0,560.6 1307.0,557.9 1315.0,554.6 1323.0,552.4" fill="none" stroke="#ff0000" stroke-width="1" shape-rendering="crispEdges" stroke-dasharray="3 3"/>
<polyline points="11.0,655.2 19.0,684.8 27.0,689.4 35.0,686.2 43.0,690.5 51.0,687.2 59.0,683.6 67.0,681.4 75.0,679.4 83.0,671.2 91.0,673.5 99.0,673.5 107.0,661.9 115.0,653.2 123.0,657.2 131.0,656.2 139.0,658.3 147.0,662.6 155.0,661.5 163.0,656.2 171.0,654.3 179.0,655.2 187.0,651.3 195.0,647.3 203.0,653.2 211.0,669.9 219.0,683.6 227.0,683.6 235.0,678.5 243.0,677.4 251.0,679.4 259.0,675.5 267.0,665.6 275.0,668.3 283.0,669.5 291.0,671.5 299.0,670.3 307.0,662.6 315.0,668.5 323.0,665.5 331.0,673.2 339.0,675.5 347.0,674.5 355.0,673.5 363.0,677.4 371.0,673.6 379.0,673.5 387.0,667.5 395.0,670.5 403.0,658.6 411.0,663.2 419.0,664.5 427.0,667.5 435.0,670.3 443.0,674.5 451.0,681.8 459.0,691.3 467.0,671.5 475.0,672.5 483.0,669.5 491.0,665.6 499.0,664.5 507.0,665.6 515.0,657.5 523.0,658.6 531.0,656.2 539.0,654.6 547.0,654.6 555.0,655.5 563.0,651.5 571.0,661.5 579.0,656.3 587.0,657.5 595.0,655.5 603.0,652.3 611.0,643.9 619.0,638.4 627.0,640.3 635.0,639.3 643.0,637.3 651.0,649.5 659.0,642.6 667.0,647.5 675.0,646.3 683.0,645.3 691.0,642.3 699.0,653.2 707.0,653.2 715.0,654.3 723.0,654.3 731.0,653.2 739.0,658.6 747.0,655.5 755.0,652.6 763.0,645.5 771.0,643.3 779.0,638.4 787.0,638.4 795.0,638.4 803.0,633.3 811.0,646.6 819.0,656.3 827.0,653.2 835.0,656.3 843.0,652.3 851.0,667.5 859.0,646.3 867.0,647.5 875.0,647.5 883.0,646.3 891.0,648.3 899.0,657.2 907.0,651.5 915.0,658.6 923.0,657.5 931.0,658.6 939.0,656.2 947.0,665.9 955.0,684.5 963.0,674.5 971.0,674.5 979.0,675.5 987.0,679.4 995.0,676.5 1003.0,675.5 1011.0,669.6 1019.0,671.5 1027.0,667.5 1035.0,666.5 1043.0,663.2 1051.0,657.5 1059.0,652.3 1067.0,653.5 1075.0,657.5 1083.0,655.5 1091.0,657.5 1099.0,662.6 1107.0,675.5 1115.0,669.6 1123.0,669.6 1131.0,672.5 1139.0,675.5 1147.0,683.6 1155.0,674.5 1163.0,666.3 1171.0,664.5 1179.0,663.2 1187.0,664.5 1195.0,653.2 1203.0,655.5 1211.0,654.6 1219.0,654.6 1227.0,650.6 1235.0,648.6 1243.0,645.5 1251.0,643.5 1259.0,639.3 1267.0,633.7 1275.0,632.4 1283.0,632.4 1291.0,636.4 1299.0,634.4 1307.0,629.7 1315.0,627.3 1323.0,628.4" fill="none" stroke="#1e90ff" stroke-width="1" shape-rendering="crispEdges" />
<text x="1168" y="461" font-size="50" fill="#ff1f12" textLength="344" lengthAdjust="spacingAndGlyphs" style="font-family:'Liberation Sans','Noto Sans CJK SC',sans-serif;">多空转折点62.5</text>
</g>
</svg>

<!-- header text -->
<svg class="abs" style="left:13px;top:46px;" width="11" height="7" viewBox="0 0 11 7"><path d="M0.6 6.2 L5.5 0.8 L10.4 6.2 Z" fill="#000"/></svg>
<div class="t" style="left:29px;top:43px;transform:scaleX(0.888);">USOil-,H4</div>
<div class="t" style="left:87px;top:43px;transform:scaleX(0.992);">62.590 62.600 62.390 62.560</div>
<div class="t" style="left:14px;top:544px;">MACD(12,26,9) 0.7466 0.5819</div>
<div class="t" style="left:14px;top:608px;">RSI(14) 81.2550</div>

<!-- price axis -->
<div class="tick" style="top:126px;"></div><div class="ax" style="top:120px;">61.610</div>
<div class="tick" style="top:175px;"></div><div class="ax" style="top:169px;">60.740</div>
<div class="tick" style="top:224px;"></div><div class="ax" style="top:218px;">59.870</div>
<div class="tick" style="top:273px;"></div><div class="ax" style="top:267px;">58.985</div>
<div class="tick" style="top:322px;"></div><div class="ax" style="top:316px;">58.115</div>
<div class="tick" style="top:371px;"></div><div class="ax" style="top:365px;">57.245</div>
<div class="tick" style="top:420px;"></div><div class="ax" style="top:414px;">56.360</div>
<div class="tick" style="top:469px;"></div><div class="ax" style="top:463px;">55.490</div>
<div class="tick" style="top:518px;"></div><div class="ax" style="top:512px;">54.620</div>

<!-- price labels -->
<div class="lbl" style="top:66px;background:#000;"><span>62.560</span></div>
<div class="lbl" style="top:72px;background:#00fa7d;"><span>62.467</span></div>
<div class="lbl" style="top:196px;background:#0000ff;"><span>60.265</span></div>
<div class="lbl" style="top:259px;background:#0000ff;"><span>59.136</span></div>

<!-- indicator axes -->
<div class="tick" style="top:540px;"></div><div class="ax" style="left:1678px;top:542px;">0.7986</div>
<div class="tick" style="top:582px;"></div><div class="ax" style="left:1678px;top:576px;">0.00</div>
<div class="tick" style="top:600px;"></div><div class="ax" style="left:1678px;top:587px;">-0.346</div>
<div class="tick" style="top:605px;"></div><div class="ax" style="left:1678px;top:606px;">100</div>
<div class="tick" style="top:643px;"></div><div class="ax" style="left:1677px;top:637px;">70</div>
<div class="tick" style="top:693px;"></div><div class="ax" style="left:1677px;top:687px;">30</div>
<div class="tick" style="top:732px;"></div><div class="ax" style="left:1678px;top:718px;">0</div>

<!-- dates -->
<div class="dtick" style="left:11px;"></div><div class="dt" style="left:10px;">25 Feb 2019</div>
<div class="dtick" style="left:107px;"></div><div class="dt" style="left:106px;">27 Feb 08:00</div>
<div class="dtick" style="left:203px;"></div><div class="dt" style="left:202px;">1 Mar 08:00</div>
<div class="dtick" style="left:299px;"></div><div class="dt" style="left:298px;">5 Mar 04:00</div>
<div class="dtick" style="left:395px;"></div><div class="dt" style="left:394px;">7 Mar 04:00</div>
<div class="dtick" style="left:491px;"></div><div class="dt" style="left:490px;">11 Mar 00:00</div>
<div class="dtick" style="left:587px;"></div><div class="dt" style="left:586px;">13 Mar 00:00</div>
<div class="dtick" style="left:683px;"></div><div class="dt" style="left:682px;">15 Mar 00:00</div>
<div class="dtick" style="left:779px;"></div><div class="dt" style="left:778px;">18 Mar 22:00</div>
<div class="dtick" style="left:875px;"></div><div class="dt" style="left:874px;">20 Mar 20:00</div>
<div class="dtick" style="left:971px;"></div><div class="dt" style="left:970px;">22 Mar 20:00</div>
<div class="dtick" style="left:1067px;"></div><div class="dt" style="left:1066px;">26 Mar 16:00</div>
<div class="dtick" style="left:1163px;"></div><div class="dt" style="left:1162px;">28 Mar 16:00</div>
<div class="dtick" style="left:1259px;"></div><div class="dt" style="left:1258px;">1 Apr 12:00</div>

<!-- trade panel -->
<div class="abs" style="left:12px;top:62px;width:285px;height:76px;background:#fff;"></div>
<div class="abs" style="left:14px;top:62px;width:68px;height:28px;box-sizing:border-box;border:1px solid #0808a8;border-bottom:none;background:linear-gradient(#5a5afc,#4040e8);"></div>
<div class="abs" style="left:229px;top:62px;width:68px;height:28px;box-sizing:border-box;border:1px solid #0808a8;border-bottom:none;background:linear-gradient(#5a5afc,#4040e8);"></div>
<div class="abs" style="left:14px;top:89px;width:141px;height:49px;box-sizing:border-box;border:1px solid #0606a6;background:linear-gradient(#3a3ae4,#1c1cd0 50%,#0000ae);"></div>
<div class="abs" style="left:157px;top:89px;width:140px;height:49px;box-sizing:border-box;border:1px solid #0606a6;background:linear-gradient(#3a3ae4,#1c1cd0 50%,#0000ae);"></div>
<div class="abs" style="left:15px;top:89px;width:66px;height:1px;background:#3c3ce6;"></div>
<div class="abs" style="left:230px;top:89px;width:66px;height:1px;background:#3c3ce6;"></div>
<div class="abs" style="left:18px;top:88px;width:60px;height:1px;background:#0a0aa0;"></div>
<div class="abs" style="left:18px;top:89px;width:60px;height:1px;background:#8c8cf5;"></div>
<div class="abs" style="left:233px;top:88px;width:60px;height:1px;background:#0a0aa0;"></div>
<div class="abs" style="left:233px;top:89px;width:60px;height:1px;background:#8c8cf5;"></div>
<div class="abs" style="left:14px;top:62px;width:68px;height:27px;color:#fff;font-size:15px;line-height:27px;text-align:center;transform:scaleX(0.95);">SELL</div>
<div class="abs" style="left:229px;top:62px;width:68px;height:27px;color:#fff;font-size:15px;line-height:27px;text-align:center;transform:scaleX(0.95);">BUY</div>
<!-- spinner -->
<div class="abs" style="left:84px;top:62px;width:143px;height:25px;box-sizing:border-box;border:1px solid #ababab;background:#fff;"></div>
<div class="abs" style="left:85px;top:63px;width:23px;height:23px;background:linear-gradient(#f2f2f2,#e8e8e8 30%,#dadada 32%,#cfcfcf);box-shadow:inset 0 0 0 1px #fafafa;"></div>
<div class="abs" style="left:108px;top:63px;width:1px;height:23px;background:#ababab;"></div>
<div class="abs" style="left:203px;top:63px;width:23px;height:23px;background:linear-gradient(#f2f2f2,#e8e8e8 30%,#dadada 32%,#cfcfcf);box-shadow:inset 0 0 0 1px #fafafa;"></div>
<div class="abs" style="left:202px;top:63px;width:1px;height:23px;background:#ababab;"></div>
<svg class="abs" style="left:84px;top:62px;" width="143" height="25" viewBox="0 0 143 25"><path d="M8.5 11 L16.5 11 L12.5 15.5 Z" fill="#5a6ab8"/><path d="M126.5 14 L134.5 14 L130.5 9.5 Z" fill="#5a6ab8"/></svg>
<div class="abs" style="left:109px;top:62px;width:91px;height:25px;font-size:16px;line-height:25px;text-align:right;">1.00</div>
<!-- prices -->
<div class="abs" style="left:52.5px;top:113px;color:#fff;font-weight:bold;font-size:14.6px;line-height:18px;transform-origin:0 0;transform:scaleX(1.2);">62</div>
<div class="abs" style="left:75.5px;top:89px;color:#fff;font-size:42.8px;line-height:47px;transform-origin:0 0;transform:scaleX(0.93);">56</div>
<div class="abs" style="left:123.5px;top:94px;color:#fff;font-weight:bold;font-size:16.5px;line-height:18px;transform-origin:0 0;transform:scaleX(1.12);">0</div>
<div class="abs" style="left:195px;top:113px;color:#fff;font-weight:bold;font-size:14.6px;line-height:18px;transform-origin:0 0;transform:scaleX(1.2);">62</div>
<div class="abs" style="left:218px;top:89px;color:#fff;font-size:42.8px;line-height:47px;transform-origin:0 0;transform:scaleX(0.93);">61</div>
<div class="abs" style="left:266.5px;top:94px;color:#fff;font-weight:bold;font-size:16.5px;line-height:18px;transform-origin:0 0;transform:scaleX(1.12);">0</div>

</body>
</html>
